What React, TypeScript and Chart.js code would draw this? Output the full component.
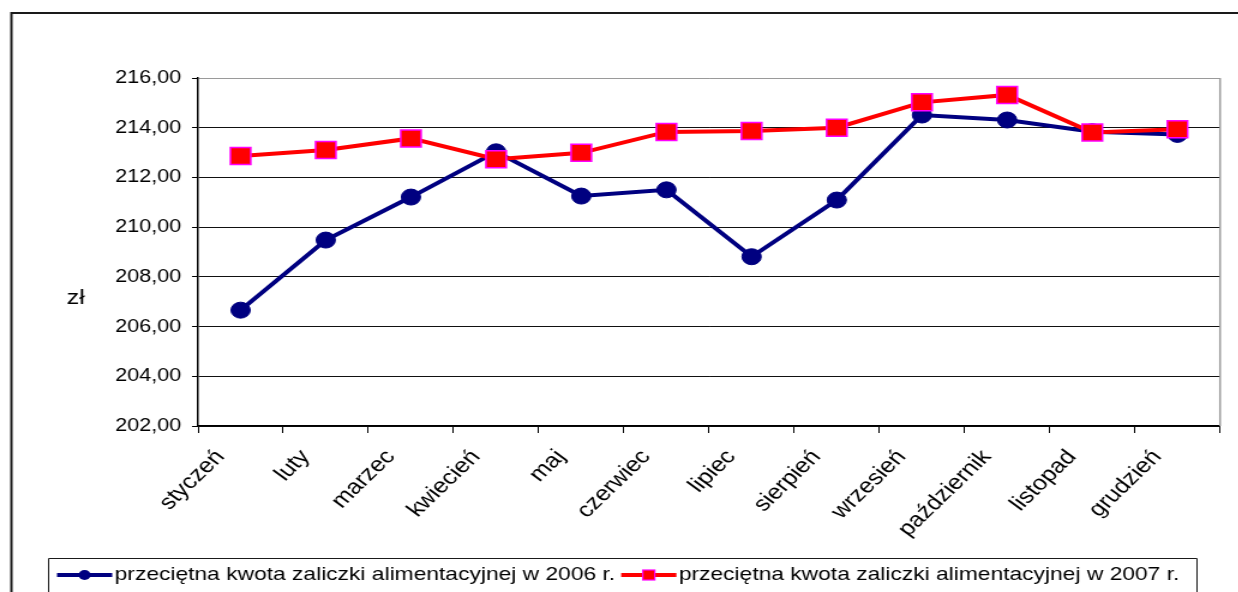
import React, { useEffect, useRef } from "react";
import { Chart, registerables } from "chart.js";

Chart.register(...registerables);

// ---- data ----
const months = [
  "styczeń",
  "luty",
  "marzec",
  "kwiecień",
  "maj",
  "czerwiec",
  "lipiec",
  "sierpień",
  "wrzesień",
  "październik",
  "listopad",
  "grudzień",
];
const values2006 = [206.66, 209.48, 211.21, 213.03, 211.25, 211.5, 208.81, 211.09, 214.51, 214.31, 213.84, 213.73];
const values2007 = [212.86, 213.1, 213.57, 212.73, 212.99, 213.83, 213.87, 214.0, 215.02, 215.32, 213.81, 213.94];
const label2006 = "przeciętna kwota zaliczki alimentacyjnej w 2006 r.";
const label2007 = "przeciętna kwota zaliczki alimentacyjnej w 2007 r.";
const yUnit = "zł";
const yMin = 202;
const yMax = 216;
const yStep = 2;

// ---- layout (internal canvas units; canvas is stretched horizontally) ----
const STRETCH = 1.2;
const W = 1045; // wider than the visible 1238px / 1.2, the excess is clipped
const H = 600;
const VIEW_H = 592;
const PLOT_RIGHT = 1016.7;
const FONT = "'Liberation Sans', Arial, sans-serif";
const NAVY = "#000080";
const RED = "#ff0000";
const MAGENTA = "#ff00ff";

const framePlugin = {
  id: "frame",
  beforeDraw(chart: any) {
    const ctx = chart.ctx;
    ctx.save();
    ctx.fillStyle = "#ffffff";
    ctx.fillRect(0, 0, W, H);
    ctx.strokeStyle = "#1a1a1a";
    ctx.lineWidth = 2;
    ctx.beginPath();
    ctx.moveTo(9.5, H);
    ctx.lineTo(9.5, 13);
    ctx.lineTo(W, 13);
    ctx.stroke();
    ctx.restore();
  },
  beforeDatasetsDraw(chart: any) {
    const { ctx, chartArea } = chart;
    ctx.save();
    ctx.strokeStyle = "#9a9a9a";
    ctx.lineWidth = 1.5;
    ctx.beginPath();
    ctx.moveTo(chartArea.right, chartArea.top);
    ctx.lineTo(chartArea.right, chartArea.bottom);
    ctx.stroke();
    ctx.restore();
  },
  afterDraw(chart: any) {
    const ctx = chart.ctx;
    ctx.save();
    // unit label
    ctx.fillStyle = "#000";
    ctx.font = `21px ${FONT}`;
    ctx.textAlign = "center";
    ctx.textBaseline = "middle";
    ctx.fillText(yUnit, 63, 298);

    // legend box (bottom edge lies below the visible area)
    ctx.strokeStyle = "#1a1a1a";
    ctx.lineWidth = 1;
    ctx.beginPath();
    ctx.moveTo(40.5, H);
    ctx.lineTo(40.5, 558.5);
    ctx.lineTo(997.5, 558.5);
    ctx.lineTo(997.5, H);
    ctx.stroke();

    const ly = 575;
    ctx.font = `19px ${FONT}`;
    ctx.textAlign = "left";
    ctx.textBaseline = "middle";
    let x = 47.5;
    // series 2006
    ctx.strokeStyle = NAVY;
    ctx.lineWidth = 4;
    ctx.beginPath();
    ctx.moveTo(x, ly);
    ctx.lineTo(x + 46, ly);
    ctx.stroke();
    ctx.fillStyle = NAVY;
    ctx.beginPath();
    ctx.arc(x + 23, ly, 5, 0, Math.PI * 2);
    ctx.fill();
    x += 48;
    ctx.fillStyle = "#000";
    ctx.fillText(label2006, x, ly);
    x += ctx.measureText(label2006).width + 5;
    // series 2007
    ctx.strokeStyle = RED;
    ctx.lineWidth = 4;
    ctx.beginPath();
    ctx.moveTo(x, ly);
    ctx.lineTo(x + 46, ly);
    ctx.stroke();
    ctx.fillStyle = RED;
    ctx.fillRect(x + 23 - 5, ly - 5, 10, 10);
    ctx.strokeStyle = MAGENTA;
    ctx.lineWidth = 1.2;
    ctx.strokeRect(x + 23 - 5, ly - 5, 10, 10);
    x += 48;
    ctx.fillStyle = "#000";
    ctx.fillText(label2007, x, ly);
    ctx.restore();
  },
};

export default function App() {
  const canvasRef = useRef<HTMLCanvasElement | null>(null);

  useEffect(() => {
    const canvas = canvasRef.current;
    if (!canvas) return;
    const chart = new Chart(canvas, {
      type: "line",
      data: {
        labels: months,
        datasets: [
          {
            label: label2006,
            data: values2006,
            borderColor: NAVY,
            backgroundColor: NAVY,
            borderWidth: 4,
            tension: 0,
            pointStyle: "circle",
            pointRadius: 8,
            pointBorderWidth: 1,
            pointBackgroundColor: NAVY,
            pointBorderColor: NAVY,
            order: 2,
          },
          {
            label: label2007,
            data: values2007,
            borderColor: RED,
            backgroundColor: RED,
            borderWidth: 4,
            tension: 0,
            pointStyle: "rect",
            pointRadius: 12,
            pointBorderWidth: 1.5,
            pointBackgroundColor: RED,
            pointBorderColor: MAGENTA,
            order: 1,
          },
        ],
      },
      options: {
        responsive: false,
        animation: false,
        devicePixelRatio: 1,
        events: [],
        layout: { padding: { top: 78, right: W - PLOT_RIGHT, left: 0, bottom: 0 } },
        plugins: {
          legend: { display: false },
          tooltip: { enabled: false },
          title: { display: false },
        },
        scales: {
          x: {
            type: "category",
            offset: true,
            afterFit(scale: any) {
              scale.height = H - 426;
            },
            grid: {
              display: true,
              offset: true,
              drawOnChartArea: false,
              drawTicks: true,
              tickLength: 7,
              color: "#000",
              lineWidth: 1,
            },
            border: { display: true, color: "#000", width: 1.5 },
            ticks: {
              autoSkip: false,
              minRotation: 49,
              maxRotation: 49,
              padding: 12,
              labelOffset: -17,
              color: "#000",
              font: { family: FONT, size: 21 },
            },
          },
          y: {
            min: yMin,
            max: yMax,
            afterFit(scale: any) {
              scale.width = 165;
            },
            grid: {
              drawTicks: true,
              tickLength: 5,
              lineWidth: 1,
              color: (c: any) => (c.tick && c.tick.value === yMax ? "#9a9a9a" : "#111"),
              tickColor: "#000",
            },
            border: { display: true, color: "#000", width: 1.5 },
            ticks: {
              stepSize: yStep,
              padding: 9,
              color: "#000",
              font: { family: FONT, size: 18 },
              callback: (v: any) => Number(v).toFixed(2).replace(".", ","),
            },
          },
        },
      },
      plugins: [framePlugin],
    });
    return () => chart.destroy();
  }, []);

  return (
    <div style={{ position: "fixed", left: 0, top: 0, width: 1238, height: VIEW_H, overflow: "hidden", background: "#fff" }}>
      <div
        style={{
          position: "absolute",
          left: 0,
          top: 0,
          width: W,
          height: H,
          transform: `scaleX(${STRETCH})`,
          transformOrigin: "0 0",
        }}
      >
        <canvas ref={canvasRef} width={W} height={H} style={{ display: "block" }} />
      </div>
    </div>
  );
}
